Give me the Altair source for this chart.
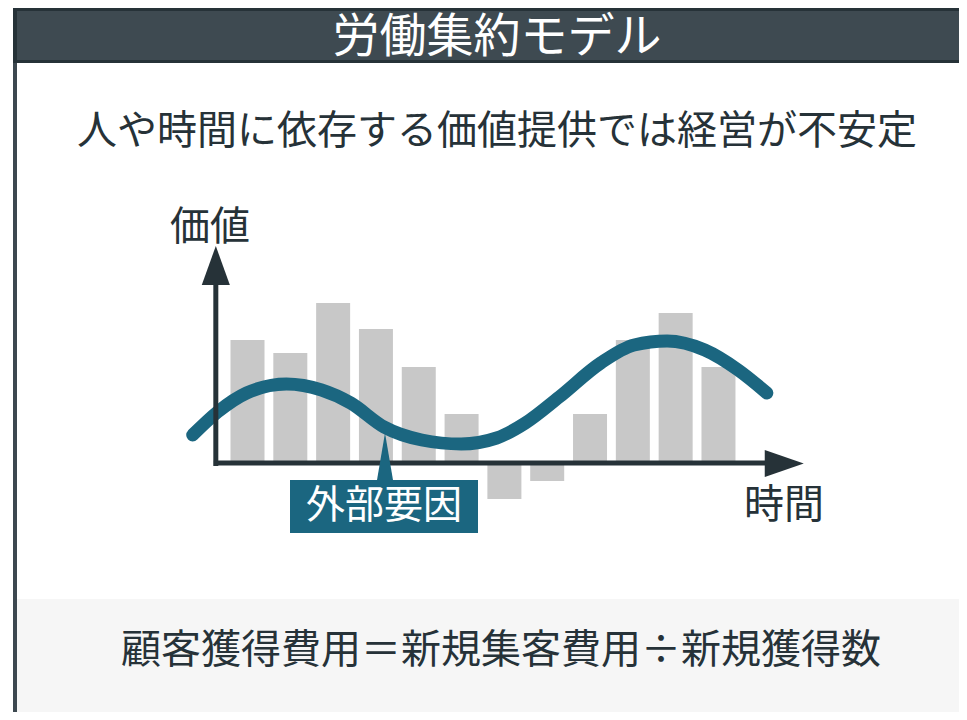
import altair as alt
import pandas as pd

# ---------------- text ----------------
TITLE = "労働集約モデル"
SUBTITLE = "人や時間に依存する価値提供では経営が不安定"
Y_LABEL = "価値"
X_LABEL = "時間"
CALLOUT = "外部要因"
FORMULA = "顧客獲得費用＝新規集客費用÷新規獲得数"

# ---------------- data ----------------
bar_period = [1, 2, 3, 4, 5, 6, 7, 8, 9, 10, 11, 12]
bar_value = [12.2, 10.9, 15.9, 13.3, 9.5, 4.8, -3.7, -1.9, 4.8, 12.2, 14.9, 9.5]

curve_period = [-0.28, 0.30, 0.98, 1.91, 2.73, 3.41, 4.19, 5.07, 5.99, 6.82,
                7.49, 8.28, 9.25, 10.03, 10.80, 11.68, 12.46, 13.13]
curve_value = [2.7, 5.0, 6.9, 7.8, 7.2, 5.9, 3.5, 2.2, 1.8, 2.4,
               3.9, 6.5, 9.9, 11.7, 12.1, 11.2, 9.2, 6.9]

# ---------------- styles ----------------
FONT = "Noto Sans CJK JP"
DARK = "#263238"
HEADER = "#3e4a51"
TEAL = "#1b6680"
BAR = "#c8c8c8"
BAND = "#f6f6f6"

W, H = 951, 704
X_DOMAIN = [-4.477, 17.501]
Y_DOMAIN = [-25.0, 45.4]
xs = alt.Scale(domain=X_DOMAIN, nice=False, zero=False)
ys = alt.Scale(domain=Y_DOMAIN, nice=False, zero=False)

one = pd.DataFrame({"k": [0]})
bars = pd.DataFrame({"period": bar_period, "value": bar_value})
curve = pd.DataFrame({"period": curve_period, "value": curve_value})


def rect(x, x2, y, y2, color):
    return alt.Chart(one).mark_rect(color=color, strokeWidth=0).encode(
        x=alt.value(x), x2=alt.value(x2), y=alt.value(y), y2=alt.value(y2))


def label(text, x, y, size, color=DARK, weight="normal"):
    return alt.Chart(one).mark_text(
        text=text, font=FONT, fontSize=size, color=color, fontWeight=weight,
        align="center", baseline="middle").encode(x=alt.value(x), y=alt.value(y))


# decorations
header_border = rect(5, W, 0, 55, DARK)
header_fill = rect(9, W, 3, 52, HEADER)
left_border = rect(5, 9, 55, H, "#3d4850")
band = rect(9, W, 591, H, BAND)

# bars
bar_layer = alt.Chart(bars).mark_bar(width=34, color=BAR).encode(
    x=alt.X("period:Q", scale=xs, axis=None),
    y=alt.Y("value:Q", scale=ys, axis=None),
    y2=alt.datum(0),
)

# axes (arrows)
axes_df = pd.DataFrame({
    "x": [0.26, 0.214], "x2": [0.26, 13.2],
    "y": [-0.4, -0.1], "y2": [18.5, -0.1],
})
axis_lines = alt.Chart(axes_df).mark_rule(color=DARK, strokeWidth=5).encode(
    x=alt.X("x:Q", scale=xs, axis=None), x2="x2:Q",
    y=alt.Y("y:Q", scale=ys, axis=None), y2="y2:Q",
)
yhead = alt.Chart(pd.DataFrame({"x": [0.26], "y": [19.65]})).mark_point(
    shape="M 0 -1 L 0.72 1 L -0.72 1 Z", size=1521, filled=True,
    opacity=1, color=DARK, strokeWidth=0).encode(
    x=alt.X("x:Q", scale=xs, axis=None), y=alt.Y("y:Q", scale=ys, axis=None))
xhead = alt.Chart(pd.DataFrame({"x": [13.537], "y": [-0.15]})).mark_point(
    shape="M -1 -0.69 L 1 0 L -1 0.69 Z", size=1521, filled=True,
    opacity=1, color=DARK, strokeWidth=0).encode(
    x=alt.X("x:Q", scale=xs, axis=None), y=alt.Y("y:Q", scale=ys, axis=None))

# curve
curve_layer = alt.Chart(curve).mark_line(
    color=TEAL, strokeWidth=13, strokeCap="round", interpolate="monotone").encode(
    x=alt.X("period:Q", scale=xs, axis=None),
    y=alt.Y("value:Q", scale=ys, axis=None),
    order="period:Q",
)

# callout
callout_box = rect(282, 470, 472, 525, TEAL)
pointer = alt.Chart(one).mark_point(
    shape="M 0 -1 L 0.34 1 L -0.34 1 Z", size=2500, filled=True,
    opacity=1, color=TEAL, strokeWidth=0).encode(x=alt.value(377), y=alt.value(450))

chart = alt.layer(
    band, header_border, header_fill, left_border,
    bar_layer, curve_layer, axis_lines, yhead, xhead,
    pointer, callout_box,
    label(TITLE, 489, 30, 47, "#ffffff"),
    label(SUBTITLE, 489, 124, 40),
    label(Y_LABEL, 202, 220, 40),
    label(X_LABEL, 776, 498, 40),
    label(CALLOUT, 376, 498, 39, "#ffffff"),
    label(FORMULA, 493, 643, 40),
).properties(
    width=W, height=H,
    autosize=alt.AutoSizeParams(type="none"),
    padding=0,
    background="#ffffff",
).configure_view(strokeWidth=0)

chart.save("out.html", embed_options={"renderer": "svg", "actions": False})
